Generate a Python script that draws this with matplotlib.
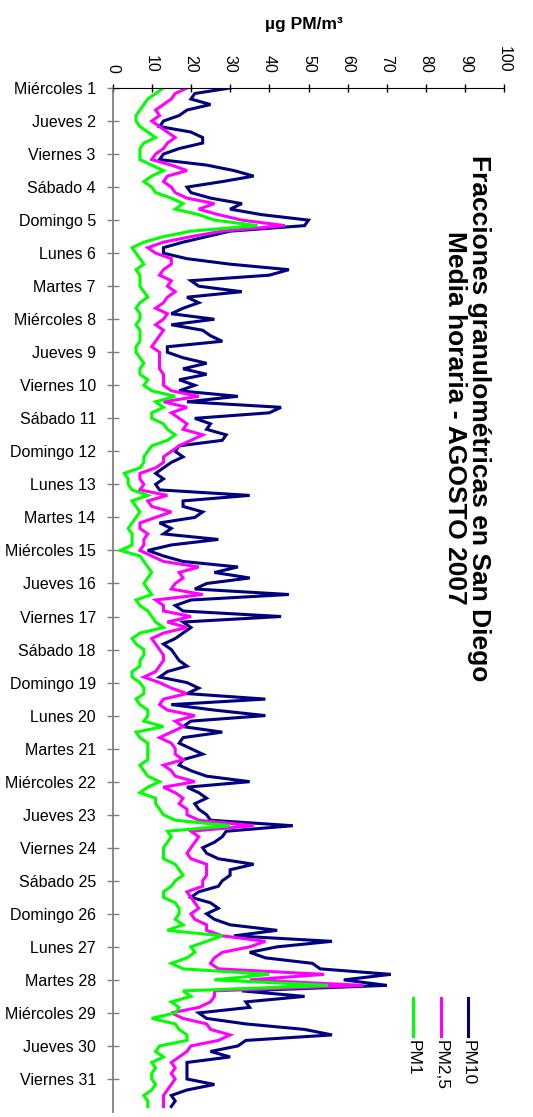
import numpy as np
import matplotlib
matplotlib.use("Agg")
import matplotlib.pyplot as plt
from matplotlib.lines import Line2D

plt.rcParams['font.family'] = ['Liberation Sans', 'DejaVu Sans']

# Medias cada 4 horas (6 valores por dia), agosto 2007, ug/m3
pm10 = [30, 21, 20, 25, 19, 17,
        13, 12, 20, 23, 23, 17,
        13, 12, 24, 31, 36, 28,
        19, 20, 25, 33, 30, 38,
        50, 49, 30, 24, 18, 13,
        13, 19, 30, 45, 40, 20,
        22, 33, 19, 22, 18, 15,
        26, 15, 23, 25, 28, 14,
        14, 18, 24, 18, 24, 17,
        21, 17, 32, 19, 43, 40,
        21, 25, 24, 29, 28, 17,
        16, 18, 15, 13, 11, 13,
        11, 12, 35, 18, 18, 23,
        21, 12, 15, 13, 27, 15,
        9, 13, 18, 32, 26, 35,
        24, 21, 45, 20, 16, 18,
        43, 18, 20, 18, 16, 13,
        15, 16, 17, 19, 14, 12,
        19, 22, 19, 39, 15, 26,
        39, 20, 18, 28, 18, 17,
        20, 23, 18, 17, 20, 24,
        35, 19, 22, 24, 21, 22,
        24, 25, 46, 29, 28, 26,
        23, 24, 27, 36, 30, 30,
        28, 27, 22, 20, 25, 27,
        24, 26, 30, 42, 31, 56,
        42, 35, 39, 51, 53, 71,
        59, 70, 33, 49, 34, 35,
        22, 24, 34, 49, 56, 34,
        32, 25, 30, 19, 19, 19,
        19, 26, 19, 15, 16, 15]

pm25 = [19, 16, 15, 13, 11, 12,
        10, 12, 14, 16, 14, 13,
        11, 10, 15, 19, 14, 13,
        15, 16, 19, 26, 22, 27,
        33, 44, 28, 20, 13, 9,
        11, 15, 15, 13, 12, 15,
        14, 16, 14, 13, 11, 14,
        13, 11, 13, 12, 11, 10,
        12, 12, 12, 12, 13, 13,
        13, 15, 22, 13, 19, 15,
        17, 19, 18, 23, 20, 17,
        15, 13, 13, 11, 7, 7,
        8, 7, 14, 9, 10, 15,
        11, 7, 7, 9, 8, 8,
        7, 10, 13, 22, 17, 18,
        16, 15, 23, 11, 13, 13,
        20, 14, 19, 13, 10, 11,
        12, 13, 13, 12, 11, 8,
        12, 15, 19, 13, 12, 14,
        21, 16, 18, 15, 12, 15,
        16, 16, 18, 13, 15, 16,
        21, 13, 16, 18, 17, 19,
        19, 22, 36, 20, 22, 21,
        20, 19, 20, 24, 24, 24,
        23, 23, 19, 20, 21, 22,
        20, 21, 24, 24, 28, 39,
        35, 28, 26, 25, 27, 54,
        35, 64, 26, 26, 25, 22,
        15, 18, 24, 25, 30, 27,
        20, 19, 17, 15, 16, 15,
        16, 15, 14, 13, 13, 13]

pm1 = [13, 11, 9, 8, 7, 6,
       6, 7, 9, 11, 8, 7,
       7, 7, 10, 13, 10, 8,
       10, 11, 15, 18, 16, 22,
       26, 37, 20, 13, 8, 5,
       6, 7, 8, 6, 7, 7,
       7, 8, 9, 7, 6, 7,
       7, 6, 7, 7, 7, 6,
       6, 7, 8, 7, 7, 9,
       8, 10, 16, 11, 13, 10,
       10, 13, 14, 16, 14, 10,
       9, 8, 8, 7, 3, 4,
       4, 5, 9, 5, 6, 7,
       6, 5, 4, 5, 5, 5,
       2, 7, 8, 9, 10, 9,
       8, 9, 10, 6, 7, 9,
       10, 11, 13, 7, 5, 6,
       8, 8, 7, 7, 5, 5,
       7, 8, 8, 6, 7, 9,
       9, 8, 13, 6, 7, 9,
       9, 9, 9, 7, 8, 9,
       12, 9, 7, 11, 11, 12,
       13, 16, 30, 14, 15, 14,
       13, 13, 13, 16, 17, 18,
       16, 15, 13, 13, 16, 17,
       17, 16, 18, 14, 28, 24,
       20, 21, 19, 15, 18, 40,
       26, 55, 18, 20, 15, 17,
       16, 10, 16, 17, 19, 19,
       12, 11, 13, 10, 11, 10,
       10, 11, 10, 8, 9, 9]

dias_semana = ["Miércoles", "Jueves", "Viernes", "Sábado", "Domingo", "Lunes", "Martes"]
n_dias = 31
etiquetas = [f"{dias_semana[i % 7]} {i + 1}" for i in range(n_dias)]

series = [("PM10", pm10, "#000080"),
          ("PM2,5", pm25, "#FF00FF"),
          ("PM1", pm1, "#00FF00")]

horas = np.arange(len(pm10)) * 4

fig = plt.figure(figsize=(5.33, 11.17), dpi=100)
ax = fig.add_axes([112.5 / 533, 5 / 1117, 392 / 533, 1024 / 1117])

# el grafico va girado: el tiempo hacia abajo, la concentracion hacia la derecha
for nombre, valores, color in series:
    ax.plot(valores, horas, color=color, lw=2.2, solid_joinstyle="miter")

ax.set_xlim(0, 100)
ax.set_ylim(n_dias * 24, 0)

ax.xaxis.tick_top()
ax.set_xticks(np.arange(0, 101, 10))
ax.tick_params(axis="x", direction="inout", length=6, width=1, pad=8,
               labelsize=11.5, labelrotation=-90)
ax.set_yticks(np.arange(n_dias) * 24)
ax.set_yticklabels(etiquetas)
ax.tick_params(axis="y", direction="inout", length=8, width=1, pad=8,
               labelsize=11.5, color="#808080")

for lado in ["right", "bottom"]:
    ax.spines[lado].set_visible(False)
ax.spines["top"].set_color("black")
ax.spines["left"].set_color("#808080")
ax.spines["left"].set_linewidth(1.3)

fig.text(304 / 533, 1 - 25 / 1117, "µg PM/m³", ha="center", va="center",
         fontsize=12.5, fontweight="bold")

fig.text(467 / 533, 1 - 418 / 1117,
         "Fracciones granulométricas en San Diego\nMedia horaria - AGOSTO 2007",
         rotation=-90, ha="center", va="center", multialignment="center",
         fontsize=19, fontweight="bold", linespacing=1.0)

# leyenda girada
x_ley = {"PM10": 468, "PM2,5": 441, "PM1": 413}
for nombre, valores, color in series:
    xf = x_ley[nombre] / 533
    fig.add_artist(Line2D([xf, xf], [1 - 998 / 1117, 1 - 1036 / 1117],
                          color=color, lw=2.2, transform=fig.transFigure))
    fig.text(xf, 1 - 1040 / 1117, nombre, rotation=-90, ha="center", va="top",
             fontsize=12.5)

fig.savefig("out.png", dpi=100)
